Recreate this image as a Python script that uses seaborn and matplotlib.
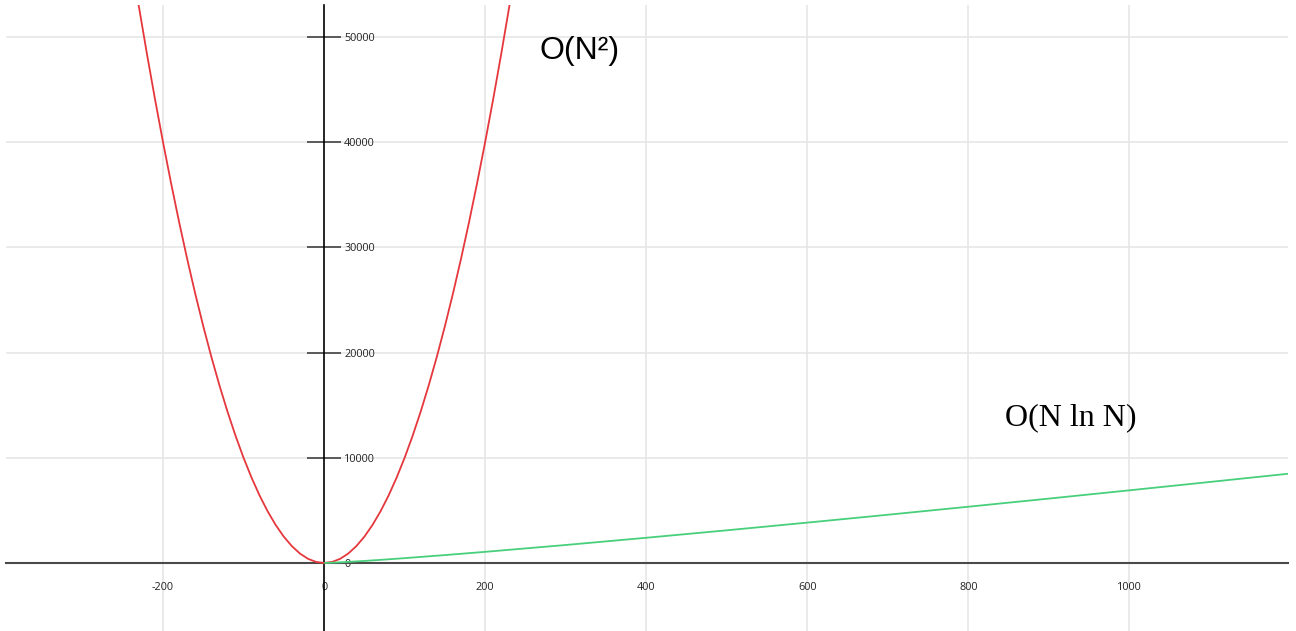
import matplotlib
matplotlib.use("Agg")
import matplotlib.pyplot as plt
import seaborn as sns

# values
# red curve, O(N^2)
n2_x = [-240, -230, -220, -210, -200, -190, -180, -170, -160, -150, -140, -130, -120, -110, -100,
        -90, -80, -70, -60, -50, -40, -30, -20, -10, 0,
        10, 20, 30, 40, 50, 60, 70, 80, 90, 100, 110, 120, 130, 140, 150, 160, 170, 180, 190,
        200, 210, 220, 230, 240]
n2_y = [57600, 52900, 48400, 44100, 40000, 36100, 32400, 28900, 25600, 22500, 19600, 16900, 14400, 12100, 10000,
        8100, 6400, 4900, 3600, 2500, 1600, 900, 400, 100, 0,
        100, 400, 900, 1600, 2500, 3600, 4900, 6400, 8100, 10000, 12100, 14400, 16900, 19600, 22500, 25600, 28900, 32400, 36100,
        40000, 44100, 48400, 52900, 57600]

# green curve, O(N ln N)
nlog_x = [1, 25, 50, 75, 100, 150, 200, 300, 400, 500, 600, 700, 800, 900, 1000, 1100, 1200]
nlog_y = [0, 80, 196, 324, 461, 752, 1060, 1711, 2397, 3107, 3838, 4586, 5348, 6122, 6908, 7703, 8507]

x_ticks = [-200, 0, 200, 400, 600, 800, 1000]
y_ticks = [0, 10000, 20000, 30000, 40000, 50000]

sns.set_style("white")
plt.rcParams['axes.unicode_minus'] = False
plt.rcParams['font.family'] = ['Open Sans', 'DejaVu Sans']

fig = plt.figure(figsize=(12.96, 6.31), dpi=100)
ax = fig.add_axes([6/1296, 0, 1282/1296, 626/631])

#grid lines
for gx in x_ticks:
    if gx != 0:
        ax.axvline(gx, color='#e6e6e6', lw=1.2, zorder=0)
for gy in y_ticks:
    if gy != 0:
        ax.axhline(gy, color='#e6e6e6', lw=1.2, zorder=0)

sns.lineplot(x=n2_x, y=n2_y, color='#e5373c', lw=1.3, ax=ax, zorder=3)
sns.lineplot(x=nlog_x, y=nlog_y, color='#48cf7c', lw=1.3, ax=ax, zorder=3)

ax.set_xlim(-395, 1197)
ax.set_ylim(-6464, 53040)

#axes through the origin
ax.spines['left'].set_visible(False)
ax.spines['top'].set_visible(False)
ax.spines['bottom'].set_position(('data', 0))
ax.spines['right'].set_position(('data', 0))
ax.spines['bottom'].set_color('#4a4a4a')
ax.spines['bottom'].set_linewidth(1.5)
ax.spines['right'].set_color('black')
ax.spines['right'].set_linewidth(1.2)
ax.yaxis.tick_right()

ax.set_xticks(x_ticks)
ax.set_yticks(y_ticks)
ax.set_xticklabels([str(v) for v in x_ticks])
ax.set_yticklabels([str(v) for v in y_ticks])
ax.tick_params(axis='x', direction='inout', length=16, width=1.1, color='#333333',
               labelsize=7.8, labelcolor='#222222', pad=6)
ax.tick_params(axis='y', direction='inout', length=25, width=1.1, color='#333333',
               labelsize=7.8, labelcolor='#222222', pad=2)

ax.text(268, 48700, 'O(N²)', fontsize=23, family='Liberation Sans', color='black', va='center', ha='left')
ax.text(845, 13800, 'O(N ln N)', fontsize=23, family='Liberation Serif', color='black', va='center', ha='left')

ax.set_xlabel('')
ax.set_ylabel('')

fig.savefig('out.png', dpi=100)
